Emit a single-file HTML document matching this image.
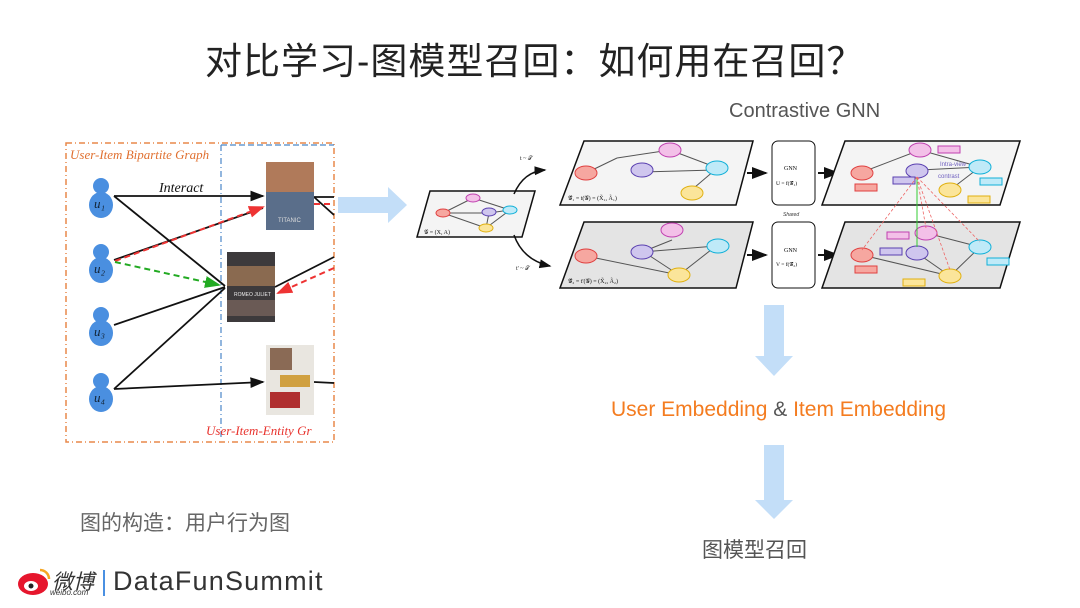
<!DOCTYPE html>
<html><head><meta charset="utf-8">
<style>
html,body{margin:0;padding:0;background:#fff;}
body{width:1080px;height:608px;overflow:hidden;position:relative;font-family:"Liberation Sans","Noto Sans CJK SC",sans-serif;}
.t{position:absolute;white-space:nowrap;}
</style></head><body>
<div class="t" style="left:205px;top:31px;font-size:37px;letter-spacing:1px;color:#222;">对比学习-图模型召回：如何用在召回？</div>
<div class="t" style="left:729px;top:100px;font-size:20px;color:#555;">Contrastive GNN</div>
<div class="t" style="left:611px;top:398px;font-size:21px;color:#f47c20;">User Embedding <span style="color:#555">&amp;</span> Item Embedding</div>
<div class="t" style="left:702px;top:534px;font-size:21px;color:#555;">图模型召回</div>
<div class="t" style="left:80px;top:507px;font-size:21px;color:#666;">图的构造：用户行为图</div>
<div class="t" style="left:52px;top:566px;font-size:21px;color:#333;font-style:italic;">微博</div>
<div class="t" style="left:50px;top:588px;font-size:8px;color:#333;font-style:italic;">weibo.com</div>
<div class="t" style="left:113px;top:566px;font-size:27px;color:#333;letter-spacing:1.2px;">DataFunSummit</div>
<svg width="1080" height="608" style="position:absolute;left:0;top:0" xmlns="http://www.w3.org/2000/svg">
<defs>
<marker id="ab" markerWidth="8" markerHeight="8" refX="7" refY="4" orient="auto"><path d="M0,1 L8,4 L0,7z" fill="#111"/></marker>
<marker id="ar" markerWidth="8" markerHeight="8" refX="7" refY="4" orient="auto"><path d="M0,1 L8,4 L0,7z" fill="#e33"/></marker>
<marker id="ag" markerWidth="8" markerHeight="8" refX="7" refY="4" orient="auto"><path d="M0,1 L8,4 L0,7z" fill="#2a2"/></marker>
</defs>
<ellipse cx="33" cy="584" rx="15" ry="11" fill="#e6162d"/>
<ellipse cx="31" cy="586" rx="7" ry="5" fill="#fff"/>
<circle cx="31" cy="586" r="2.5" fill="#222"/>
<path d="M40,570 a9,9 0 0 1 9,9" stroke="#f5a623" stroke-width="2.5" fill="none"/>
<line x1="104" y1="570" x2="104" y2="596" stroke="#4a90e2" stroke-width="2"/>
<rect x="66" y="143" width="268" height="299" fill="none" stroke="#e8894a" stroke-width="1.5" stroke-dasharray="6,3,1,3"/>
<line x1="221" y1="145" x2="221" y2="440" stroke="#4a86c8" stroke-width="1.2" stroke-dasharray="6,3,1,3"/>
<line x1="221" y1="145" x2="334" y2="145" stroke="#4a86c8" stroke-width="1.2" stroke-dasharray="6,3"/>
<text x="70" y="159" font-family="Liberation Serif" font-style="italic" font-size="13" fill="#e07030">User-Item Bipartite Graph</text>
<text x="206" y="435" font-family="Liberation Serif" font-style="italic" font-size="13" fill="#e8332e">User-Item-Entity Gr</text>
<text x="159" y="192" font-family="Liberation Serif" font-style="italic" font-size="14" fill="#111">Interact</text>
<g fill="#4a8fe0">
<circle cx="101" cy="186" r="8"/><ellipse cx="101" cy="205" rx="12" ry="13"/>
<circle cx="101" cy="252" r="8"/><ellipse cx="101" cy="270" rx="12" ry="13"/>
<circle cx="101" cy="315" r="8"/><ellipse cx="101" cy="333" rx="12" ry="13"/>
<circle cx="101" cy="381" r="8"/><ellipse cx="101" cy="399" rx="12" ry="13"/>
</g>
<g font-family="Liberation Serif" font-style="italic" font-size="13" fill="#123">
<text x="94" y="208">u₁</text><text x="94" y="273">u₂</text><text x="94" y="336">u₃</text><text x="94" y="402">u₄</text>
</g>
<g stroke="#111" stroke-width="1.8" fill="none">
<line x1="114" y1="196" x2="263" y2="196" marker-end="url(#ab)"/>
<line x1="114" y1="196" x2="225" y2="286"/>
<line x1="114" y1="260" x2="263" y2="208"/>
<line x1="114" y1="325" x2="225" y2="287"/>
<line x1="114" y1="389" x2="225" y2="288"/>
<line x1="114" y1="389" x2="263" y2="382" marker-end="url(#ab)"/>
<line x1="314" y1="197" x2="334" y2="197"/>
<line x1="314" y1="197" x2="334" y2="215"/>
<line x1="275" y1="287" x2="334" y2="257"/>
<line x1="314" y1="382" x2="334" y2="383"/>
</g>
<line x1="115" y1="261" x2="263" y2="207" stroke="#e33" stroke-width="2" stroke-dasharray="6,4" marker-end="url(#ar)"/>
<line x1="115" y1="262" x2="219" y2="285" stroke="#2a2" stroke-width="2" stroke-dasharray="6,4" marker-end="url(#ag)"/>
<line x1="334" y1="268" x2="278" y2="293" stroke="#e33" stroke-width="2" stroke-dasharray="6,4" marker-end="url(#ar)"/>
<line x1="314" y1="204" x2="334" y2="204" stroke="#e33" stroke-width="2" stroke-dasharray="6,4"/>
<rect x="266" y="162" width="48" height="68" fill="#5a6e8a"/>
<rect x="266" y="162" width="48" height="30" fill="#b07a5a"/>
<text x="278" y="222" font-size="6" fill="#ddd">TITANIC</text>
<rect x="227" y="252" width="48" height="70" fill="#3d3a3c"/>
<rect x="227" y="266" width="48" height="20" fill="#8a6a50"/>
<rect x="227" y="300" width="48" height="16" fill="#6a5a55"/>
<text x="234" y="296" font-size="5" fill="#eee">ROMEO JULIET</text>
<rect x="266" y="345" width="48" height="70" fill="#e9e6e0"/>
<rect x="270" y="348" width="22" height="22" fill="#8a6a55"/>
<rect x="280" y="375" width="30" height="12" fill="#d0a040"/>
<rect x="270" y="392" width="30" height="16" fill="#b03030"/>
<path d="M338,197 H388 V187 L407,205 L388,223 V213 H338z" fill="#c3def8"/>
<path d="M764,305 H784 V356 H793 L774,376 L755,356 H764z" fill="#c3def8"/>
<path d="M764,445 H784 V500 H793 L774,519 L755,500 H764z" fill="#c3def8"/>
<path d="M430,191 L535,191 L522,237 L417,237z" fill="#f4f4f4" stroke="#111" stroke-width="1.5"/>
<g stroke="#555" stroke-width="1">
<line x1="443" y1="213" x2="473" y2="198"/><line x1="473" y1="198" x2="510" y2="210"/><line x1="443" y1="213" x2="489" y2="213"/><line x1="489" y1="213" x2="510" y2="210"/><line x1="489" y1="213" x2="486" y2="228"/><line x1="486" y1="228" x2="510" y2="210"/><line x1="443" y1="213" x2="486" y2="228"/>
</g>
<ellipse cx="443" cy="213" rx="7" ry="4" fill="#f6a7a0" stroke="#e04040"/>
<ellipse cx="473" cy="198" rx="7" ry="4" fill="#f3c0e8" stroke="#c040b0"/>
<ellipse cx="489" cy="212" rx="7" ry="4" fill="#cfc6ee" stroke="#5a40b0"/>
<ellipse cx="510" cy="210" rx="7" ry="4" fill="#bfeaf8" stroke="#10b0d8"/>
<ellipse cx="486" cy="228" rx="7" ry="4" fill="#fbe59a" stroke="#e0b010"/>
<text x="424" y="234" font-family="Liberation Serif" font-size="6" fill="#111">𝒢 = (X, A)</text>
<path d="M514,194 C520,180 530,171 545,170" stroke="#111" stroke-width="1.5" fill="none" marker-end="url(#ab)"/>
<path d="M514,235 C520,252 532,262 550,266" stroke="#111" stroke-width="1.5" fill="none" marker-end="url(#ab)"/>
<text x="520" y="160" font-size="6" fill="#222" font-family="Liberation Serif">t ~ 𝒯</text>
<text x="516" y="270" font-size="6" fill="#222" font-family="Liberation Serif">t' ~ 𝒯</text>
<path d="M584,141 L753,141 L736,205 L560,205z" fill="#f4f4f4" stroke="#111" stroke-width="1.5"/>
<g stroke="#555" stroke-width="1">
<line x1="586" y1="173" x2="617" y2="158"/><line x1="617" y1="158" x2="670" y2="150"/><line x1="670" y1="150" x2="715" y2="167"/><line x1="642" y1="172" x2="715" y2="170"/><line x1="715" y1="170" x2="688" y2="193"/>
</g>
<ellipse cx="586" cy="173" rx="11" ry="7" fill="#f6a7a0" stroke="#e04040"/>
<ellipse cx="670" cy="150" rx="11" ry="7" fill="#f3c0e8" stroke="#c040b0"/>
<ellipse cx="642" cy="170" rx="11" ry="7" fill="#cfc6ee" stroke="#5a40b0"/>
<ellipse cx="717" cy="168" rx="11" ry="7" fill="#bfeaf8" stroke="#10b0d8"/>
<ellipse cx="692" cy="193" rx="11" ry="7" fill="#fbe59a" stroke="#e0b010"/>
<text x="568" y="200" font-size="6" font-family="Liberation Serif" fill="#111">𝒢̃₁ = t(𝒢) = (X̃₁, Ã₁)</text>
<path d="M584,222 L753,222 L736,288 L560,288z" fill="#e4e4e4" stroke="#111" stroke-width="1.5"/>
<g stroke="#555" stroke-width="1">
<line x1="586" y1="256" x2="679" y2="275"/><line x1="642" y1="252" x2="672" y2="240"/><line x1="642" y1="252" x2="716" y2="246"/><line x1="650" y1="256" x2="679" y2="275"/><line x1="716" y1="246" x2="679" y2="275"/>
</g>
<ellipse cx="586" cy="256" rx="11" ry="7" fill="#f6a7a0" stroke="#e04040"/>
<ellipse cx="672" cy="230" rx="11" ry="7" fill="#f3c0e8" stroke="#c040b0"/>
<ellipse cx="642" cy="252" rx="11" ry="7" fill="#cfc6ee" stroke="#5a40b0"/>
<ellipse cx="718" cy="246" rx="11" ry="7" fill="#bfeaf8" stroke="#10b0d8"/>
<ellipse cx="679" cy="275" rx="11" ry="7" fill="#fbe59a" stroke="#e0b010"/>
<text x="568" y="283" font-size="6" font-family="Liberation Serif" fill="#111">𝒢̃₂ = t'(𝒢) = (X̃₂, Ã₂)</text>
<line x1="747" y1="173" x2="766" y2="173" stroke="#111" stroke-width="2" marker-end="url(#ab)"/>
<line x1="747" y1="255" x2="766" y2="255" stroke="#111" stroke-width="2" marker-end="url(#ab)"/>
<rect x="772" y="141" width="43" height="64" rx="6" fill="#fff" stroke="#111"/>
<rect x="772" y="222" width="43" height="66" rx="6" fill="#fff" stroke="#111"/>
<text x="784" y="170" font-size="6" font-family="Liberation Serif">GNN</text>
<text x="776" y="185" font-size="5.5" font-family="Liberation Serif">U = f(𝒢̃₁)</text>
<text x="784" y="252" font-size="6" font-family="Liberation Serif">GNN</text>
<text x="776" y="266" font-size="5.5" font-family="Liberation Serif">V = f(𝒢̃₂)</text>
<text x="783" y="216" font-size="5" font-style="italic" fill="#333">Shared</text>
<line x1="818" y1="173" x2="838" y2="173" stroke="#111" stroke-width="2" marker-end="url(#ab)"/>
<line x1="818" y1="255" x2="838" y2="255" stroke="#111" stroke-width="2" marker-end="url(#ab)"/>
<path d="M845,141 L1020,141 L1000,205 L822,205z" fill="#f4f4f4" stroke="#111" stroke-width="1.5"/>
<g stroke="#555" stroke-width="1"><line x1="860" y1="173" x2="920" y2="150"/><line x1="920" y1="150" x2="980" y2="167"/><line x1="920" y1="170" x2="980" y2="167"/><line x1="980" y1="167" x2="950" y2="190"/></g>
<ellipse cx="862" cy="173" rx="11" ry="7" fill="#f6a7a0" stroke="#e04040"/>
<ellipse cx="920" cy="150" rx="11" ry="7" fill="#f3c0e8" stroke="#c040b0"/>
<ellipse cx="917" cy="171" rx="11" ry="7" fill="#cfc6ee" stroke="#5a40b0"/>
<ellipse cx="980" cy="167" rx="11" ry="7" fill="#bfeaf8" stroke="#10b0d8"/>
<ellipse cx="950" cy="190" rx="11" ry="7" fill="#fbe59a" stroke="#e0b010"/>
<rect x="855" y="184" width="22" height="7" fill="#f6a7a0" stroke="#e04040"/>
<rect x="938" y="146" width="22" height="7" fill="#f3c0e8" stroke="#c040b0"/>
<rect x="893" y="177" width="22" height="7" fill="#cfc6ee" stroke="#5a40b0"/>
<rect x="980" y="178" width="22" height="7" fill="#bfeaf8" stroke="#10b0d8"/>
<rect x="968" y="196" width="22" height="7" fill="#fbe59a" stroke="#e0b010"/>
<text x="940" y="166" font-size="6" fill="#7060c0">Intra-view</text>
<text x="938" y="178" font-size="6" fill="#7060c0">contrast</text>
<path d="M845,222 L1020,222 L1000,288 L822,288z" fill="#e4e4e4" stroke="#111" stroke-width="1.5"/>
<g stroke="#555" stroke-width="1"><line x1="862" y1="255" x2="950" y2="276"/><line x1="926" y1="233" x2="980" y2="247"/><line x1="917" y1="253" x2="950" y2="276"/><line x1="980" y1="247" x2="950" y2="276"/></g>
<ellipse cx="862" cy="255" rx="11" ry="7" fill="#f6a7a0" stroke="#e04040"/>
<ellipse cx="926" cy="233" rx="11" ry="7" fill="#f3c0e8" stroke="#c040b0"/>
<ellipse cx="917" cy="253" rx="11" ry="7" fill="#cfc6ee" stroke="#5a40b0"/>
<ellipse cx="980" cy="247" rx="11" ry="7" fill="#bfeaf8" stroke="#10b0d8"/>
<ellipse cx="950" cy="276" rx="11" ry="7" fill="#fbe59a" stroke="#e0b010"/>
<rect x="855" y="266" width="22" height="7" fill="#f6a7a0" stroke="#e04040"/>
<rect x="887" y="232" width="22" height="7" fill="#f3c0e8" stroke="#c040b0"/>
<rect x="880" y="248" width="22" height="7" fill="#cfc6ee" stroke="#5a40b0"/>
<rect x="987" y="258" width="22" height="7" fill="#bfeaf8" stroke="#10b0d8"/>
<rect x="903" y="279" width="22" height="7" fill="#fbe59a" stroke="#e0b010"/>
<line x1="917" y1="177" x2="917" y2="247" stroke="#3c3" stroke-width="1"/>
<g stroke="#e66" stroke-width="0.8" stroke-dasharray="3,2"><line x1="917" y1="177" x2="862" y2="250"/><line x1="917" y1="177" x2="950" y2="270"/><line x1="917" y1="177" x2="980" y2="242"/><line x1="917" y1="177" x2="926" y2="228"/></g>
</svg>
</body></html>
